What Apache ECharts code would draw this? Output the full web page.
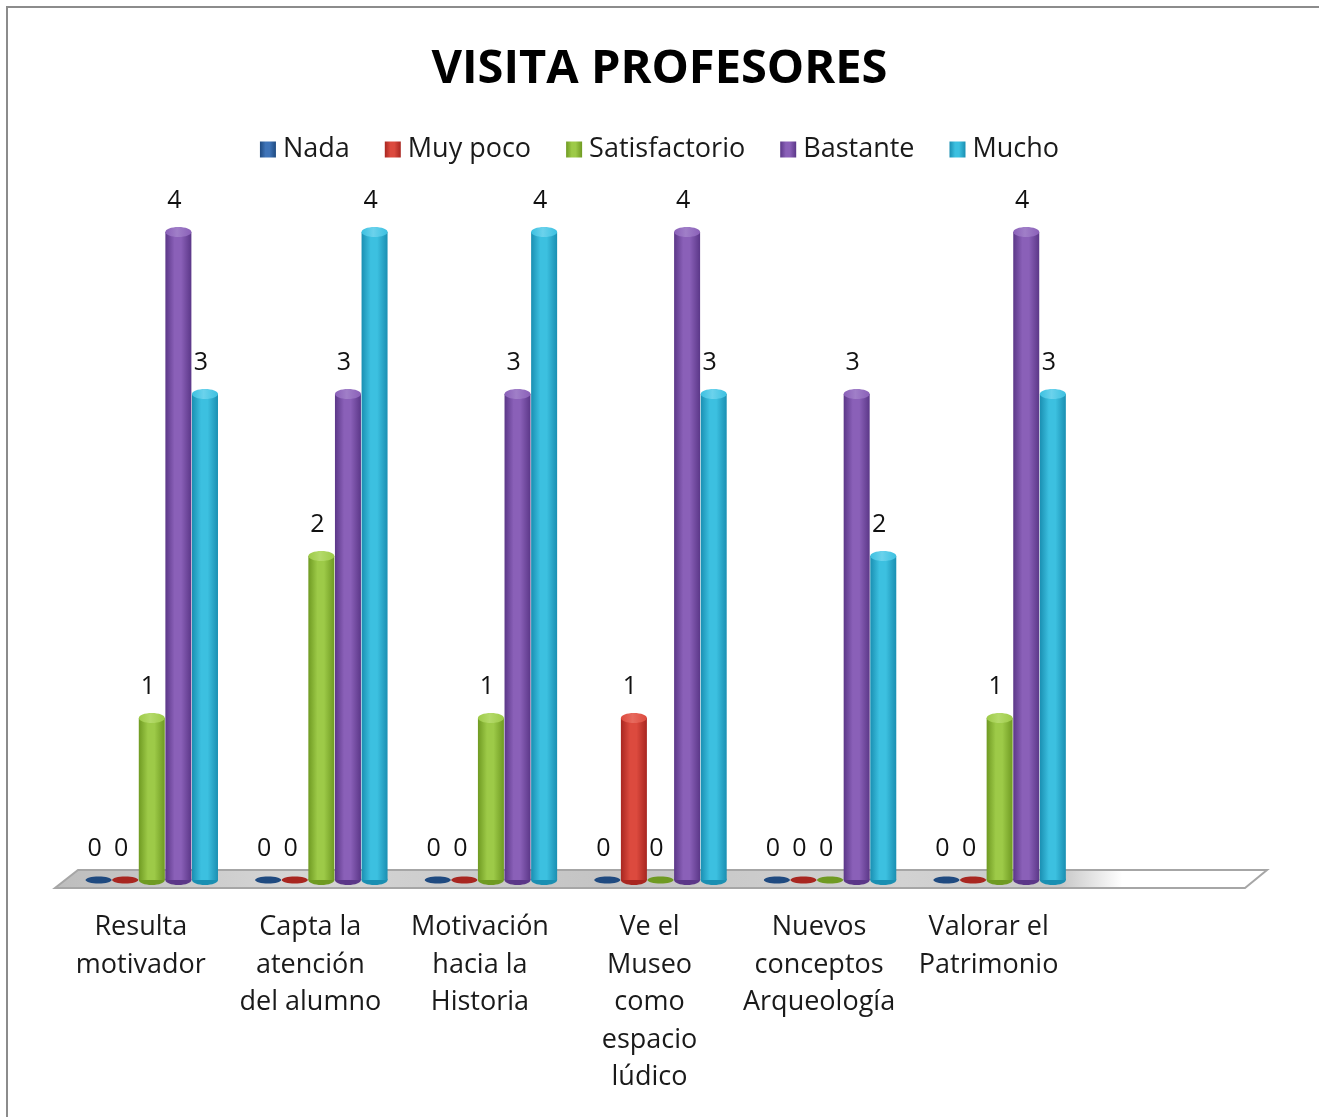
<!DOCTYPE html>
<html>
<head>
<meta charset="utf-8">
<title>VISITA PROFESORES</title>
<script src="https://cdn.jsdelivr.net/npm/echarts@6/dist/echarts.min.js"></script>
<style>
  html, body { margin: 0; padding: 0; background: #ffffff; }
  #chart { width: 1319px; height: 1117px; }
</style>
</head>
<body>
<div id="chart"></div>
<script>
// Survey questions (the last slot is left empty on the floor)
var categories = [
  'Resulta\nmotivador',
  'Capta la\natención\ndel alumno',
  'Motivación\nhacia la\nHistoria',
  'Ve el\nMuseo\ncomo\nespacio\nlúdico',
  'Nuevos\nconceptos\nArqueología',
  'Valorar el\nPatrimonio',
  ''
];

var seriesNames = ['Nada', 'Muy poco', 'Satisfactorio', 'Bastante', 'Mucho'];

var nada          = [0, 0, 0, 0, 0, 0];
var muyPoco       = [0, 0, 0, 1, 0, 0];
var satisfactorio = [1, 2, 1, 0, 0, 1];
var bastante      = [4, 3, 3, 4, 3, 4];
var mucho         = [3, 4, 4, 3, 2, 3];

var seriesValues = [nada, muyPoco, satisfactorio, bastante, mucho];

// cylinder shading: [dark edge, light centre, cap]
var palette = [
  ['#1f4a80', '#3f74b8', '#5a8ccc'],
  ['#a82620', '#dc4a3e', '#e76a5e'],
  ['#6f9a22', '#9dca48', '#b4da6a'],
  ['#5b3788', '#8a60b8', '#a07fc8'],
  ['#1a8fb2', '#3cc0e0', '#6bd2ec']
];

var BAR_W = 26;
var BAR_STEP = 26.6;

function bodyGradient(p) {
  return new echarts.graphic.LinearGradient(0, 0, 1, 0, [
    { offset: 0, color: p[0] },
    { offset: 0.35, color: p[1] },
    { offset: 0.6, color: p[1] },
    { offset: 1, color: p[0] }
  ]);
}

function capGradient(p) {
  return new echarts.graphic.LinearGradient(0, 0, 1, 0, [
    { offset: 0, color: p[1] },
    { offset: 0.45, color: p[2] },
    { offset: 1, color: p[1] }
  ]);
}

function makeSeries(si) {
  var p = palette[si];
  return {
    name: seriesNames[si],
    type: 'custom',
    z: 5,
    itemStyle: { color: bodyGradient(p) },
    data: seriesValues[si].map(function (v, i) { return [i, v]; }),
    renderItem: function (params, api) {
      var cat = api.value(0);
      var val = api.value(1);
      var base = api.coord([cat, 0]);
      var top = api.coord([cat, val]);
      var cx = base[0] + (si - 2) * BAR_STEP;
      var rx = BAR_W / 2;
      var ry = 5;
      var children = [];
      if (val > 0) {
        children.push({
          type: 'ellipse',
          shape: { cx: cx, cy: base[1], rx: rx, ry: ry },
          style: { fill: p[0] }
        });
        children.push({
          type: 'rect',
          shape: { x: cx - rx, y: top[1], width: BAR_W, height: base[1] - top[1] },
          style: { fill: bodyGradient(p) }
        });
        children.push({
          type: 'ellipse',
          shape: { cx: cx, cy: top[1], rx: rx, ry: ry },
          style: { fill: capGradient(p) }
        });
      } else {
        children.push({
          type: 'ellipse',
          shape: { cx: cx, cy: base[1], rx: rx, ry: 3.5 },
          style: { fill: p[0] }
        });
      }
      children.push({
        type: 'text',
        style: {
          text: String(val),
          x: cx - 4,
          y: top[1] - 31,
          fill: '#111111',
          font: '25px "Open Sans", sans-serif',
          align: 'center',
          verticalAlign: 'middle'
        }
      });
      return { type: 'group', children: children };
    }
  };
}

var series = seriesNames.map(function (n, i) { return makeSeries(i); });

var chart = echarts.init(document.getElementById('chart'), null, { renderer: 'canvas' });

chart.setOption({
  backgroundColor: '#ffffff',
  animation: false,
  textStyle: { fontFamily: '"Open Sans", sans-serif' },
  title: {
    text: 'VISITA PROFESORES',
    left: 'center',
    top: 41,
    textStyle: {
      fontFamily: '"Open Sans", sans-serif',
      fontSize: 47,
      fontWeight: 'bold',
      color: '#000000'
    }
  },
  legend: {
    top: 131,
    left: 'center',
    icon: 'rect',
    itemWidth: 16,
    itemHeight: 16,
    itemGap: 35,
    textStyle: { fontSize: 27, color: '#1a1a1a', padding: [0, 0, 0, 2] },
    data: seriesNames
  },
  grid: { left: 67, right: 65, top: 232, bottom: 237 },
  xAxis: {
    type: 'category',
    data: categories,
    axisLine: { show: false },
    axisTick: { show: false },
    splitLine: { show: false },
    axisLabel: {
      interval: 0,
      margin: 29,
      fontSize: 27,
      lineHeight: 37.5,
      color: '#1a1a1a',
      align: 'center',
      padding: [0, 22, 0, 0]
    }
  },
  yAxis: {
    type: 'value',
    min: 0,
    max: 4,
    interval: 1,
    show: false
  },
  graphic: [
    {
      type: 'rect',
      z: -10,
      shape: { x: 7, y: 7, width: 1330, height: 1130 },
      style: { fill: 'none', stroke: '#8c8c8c', lineWidth: 2 }
    },
    {
      type: 'polygon',
      z: 0,
      shape: { points: [[78, 870], [1267, 870], [1245, 888], [55, 888]] },
      style: {
        stroke: '#a6a6a6',
        lineWidth: 2,
        fill: new echarts.graphic.LinearGradient(0, 0, 1, 0, [
          { offset: 0, color: '#bdbdbd' },
          { offset: 0.2, color: '#d6d6d6' },
          { offset: 0.45, color: '#c4c4c4' },
          { offset: 0.7, color: '#d2d2d2' },
          { offset: 0.83, color: '#c8c8c8' },
          { offset: 0.88, color: '#ffffff' },
          { offset: 1, color: '#ffffff' }
        ])
      }
    }
  ],
  series: series
});
</script>
</body>
</html>
